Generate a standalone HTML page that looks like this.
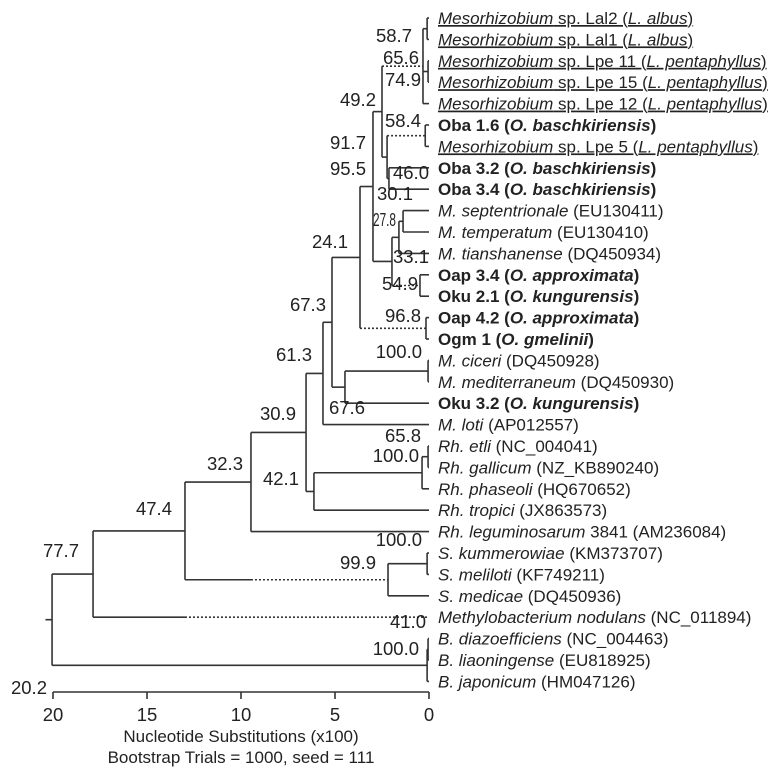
<!DOCTYPE html>
<html><head><meta charset="utf-8">
<style>
html,body{margin:0;padding:0;background:#fff;}
svg{display:block;font-family:"Liberation Sans",Arial,sans-serif;}
.br{stroke:#333;stroke-width:1.6;fill:none;}
.bs{font-size:18.5px;fill:#222;}
.leaf{font-size:17px;fill:#222;}
</style></head>
<body>
<svg id="tree" width="780" height="768" viewBox="0 0 780 768" xmlns="http://www.w3.org/2000/svg">
<g id="branches"></g>
<g id="labels"></g>
<g id="leaves"></g>
<g id="axis"></g>
</svg>
<script>
// ---- data ----
const leafNames = ["Lal2","Lal1","Lpe11","Lpe15","Lpe12","Oba16","Lpe5","Oba32","Oba34","sept","temp","tian","Oap34","Oku21","Oap42","Ogm1","cic","med","Oku32","loti","etli","gal","pha","tro","leg","kum","mel","medi","meth","dia","lia","jap"];
const leafLabels = [
 '<tspan text-decoration="underline"><tspan font-style="italic">Mesorhizobium</tspan> sp. Lal2 (<tspan font-style="italic">L. albus</tspan>)</tspan>',
 '<tspan text-decoration="underline"><tspan font-style="italic">Mesorhizobium</tspan> sp. Lal1 (<tspan font-style="italic">L. albus</tspan>)</tspan>',
 '<tspan text-decoration="underline"><tspan font-style="italic">Mesorhizobium</tspan> sp. Lpe 11 (<tspan font-style="italic">L. pentaphyllus</tspan>)</tspan>',
 '<tspan text-decoration="underline"><tspan font-style="italic">Mesorhizobium</tspan> sp. Lpe 15 (<tspan font-style="italic">L. pentaphyllus</tspan>)</tspan>',
 '<tspan text-decoration="underline"><tspan font-style="italic">Mesorhizobium</tspan> sp. Lpe 12 (<tspan font-style="italic">L. pentaphyllus</tspan>)</tspan>',
 '<tspan font-weight="bold">Oba 1.6 (<tspan font-style="italic">O. baschkiriensis</tspan>)</tspan>',
 '<tspan text-decoration="underline"><tspan font-style="italic">Mesorhizobium</tspan> sp. Lpe 5 (<tspan font-style="italic">L. pentaphyllus</tspan>)</tspan>',
 '<tspan font-weight="bold">Oba 3.2 (<tspan font-style="italic">O. baschkiriensis</tspan>)</tspan>',
 '<tspan font-weight="bold">Oba 3.4 (<tspan font-style="italic">O. baschkiriensis</tspan>)</tspan>',
 '<tspan font-style="italic">M. septentrionale</tspan> (EU130411)',
 '<tspan font-style="italic">M. temperatum</tspan>  (EU130410)',
 '<tspan font-style="italic">M. tianshanense</tspan> (DQ450934)',
 '<tspan font-weight="bold">Oap 3.4 (<tspan font-style="italic">O. approximata</tspan>)</tspan>',
 '<tspan font-weight="bold">Oku 2.1 (<tspan font-style="italic">O. kungurensis</tspan>)</tspan>',
 '<tspan font-weight="bold">Oap 4.2 (<tspan font-style="italic">O. approximata</tspan>)</tspan>',
 '<tspan font-weight="bold">Ogm 1 (<tspan font-style="italic">O. gmelinii</tspan>)</tspan>',
 '<tspan font-style="italic">M. ciceri</tspan> (DQ450928)',
 '<tspan font-style="italic">M. mediterraneum</tspan> (DQ450930)',
 '<tspan font-weight="bold">Oku 3.2 (<tspan font-style="italic">O. kungurensis</tspan>)</tspan>',
 '<tspan font-style="italic">M. loti</tspan> (AP012557)',
 '<tspan font-style="italic">Rh. etli</tspan> (NC_004041)',
 '<tspan font-style="italic">Rh. gallicum</tspan> (NZ_KB890240)',
 '<tspan font-style="italic">Rh. phaseoli</tspan> (HQ670652)',
 '<tspan font-style="italic">Rh. tropici</tspan> (JX863573)',
 '<tspan font-style="italic">Rh. leguminosarum</tspan> 3841 (AM236084)',
 '<tspan font-style="italic">S. kummerowiae</tspan> (KM373707)',
 '<tspan font-style="italic">S. meliloti</tspan> (KF749211)',
 '<tspan font-style="italic">S. medicae</tspan> (DQ450936)',
 '<tspan font-style="italic">Methylobacterium nodulans</tspan> (NC_011894)',
 '<tspan font-style="italic">B. diazoefficiens</tspan> (NC_004463)',
 '<tspan font-style="italic">B. liaoningense</tspan> (EU818925)',
 '<tspan font-style="italic">B. japonicum</tspan> (HM047126)'
];
// internal nodes: id, children, height (substitutions x100), bootstrap
const nodeIds      = ["Tl","Tp","T","Ob1","Ob3","O","L","Nst","N","Oo","M","K","Og","I","Jc","J","H","F","Ge2","Ge","G","E","D","Skm","S","C","Bd","Br","B","A"];
const nodeChildren = [["Lal2","Lal1"],["Lpe11","Lpe15"],["Tl","Tp","Lpe12"],["Oba16","Lpe5"],["Oba32","Oba34"],["Ob1","Ob3"],["T","O"],["sept","temp"],["Nst","tian"],["Oap34","Oku21"],["N","Oo"],["L","M"],["Oap42","Ogm1"],["K","Og"],["cic","med"],["Jc","Oku32"],["I","J"],["H","loti"],["etli","gal"],["Ge2","pha"],["Ge","tro"],["F","G"],["E","leg"],["kum","mel"],["Skm","medi"],["D","S"],["dia","lia"],["Bd","jap"],["C","meth"],["B","Br"]];
const nodeHeights  = [0.1,0.05,0.32,0.2,2.13,2.23,2.5,1.38,1.6,0.48,1.97,2.98,0.16,3.67,0.05,4.47,5.16,5.64,0.05,0.37,6.12,6.54,9.47,0.1,2.18,12.98,0.05,0.1,17.87,20.05];
const bootstraps   = ["58.7","74.9","65.6","58.4","46.0","91.7","49.2","33.1","27.8","54.9","30.1","95.5","96.8","24.1","100.0","67.6","67.3","61.3","65.8","100.0","42.1","30.9","32.3","100.0","99.9","47.4","41.0","100.0","77.7","20.2"];
const dashedBranches = ["T","Ob1","Oo","Og","S","meth"];
const rootHeight = 20.4;
const axisTicks = [20,15,10,5,0];
// ---- layout ----
const X0 = 429, PXU = 18.8;
const xs = d => X0 - d*PXU;
const leafY = i => 18 + i*21.4;
const labelPos = {Tl:[412,42],Tp:[421,86],T:[419,64],Ob1:[421,127],Ob3:[429,179],O:[366,149],L:[376,106],Nst:[429,263],N:[396,226],Oo:[418,290],M:[413,200],K:[366,175],Og:[421,322],I:[348,248],Jc:[422,358],J:[365,414],H:[326,311],F:[312,361],Ge2:[421,442],Ge:[419,462],G:[299,485],E:[296,420],D:[243,470],Skm:[422,546],S:[376,569],C:[172,515],Bd:[426,628],Br:[419,655],B:[79,557],A:[47,694]};

const NS="http://www.w3.org/2000/svg";
const gB=document.getElementById('branches'), gL=document.getElementById('labels'), gLf=document.getElementById('leaves'), gA=document.getElementById('axis');
const info={};
leafNames.forEach((n,i)=>{info[n]={h:0,y:leafY(i)};});
nodeIds.forEach((id,k)=>{
  const ch=nodeChildren[k].map(c=>info[c]);
  info[id]={h:nodeHeights[k],y:(ch[0].y+ch[ch.length-1].y)/2,children:nodeChildren[k]};
});
function line(x1,y1,x2,y2,dash,name){
  const l=document.createElementNS(NS,'line');
  l.setAttribute('x1',x1);l.setAttribute('y1',y1);l.setAttribute('x2',x2);l.setAttribute('y2',y2);
  l.setAttribute('class','br');
  if(dash) l.setAttribute('stroke-dasharray','2,2');
  
  
  gB.appendChild(l);
}
nodeIds.forEach((id,k)=>{
  const nd=info[id]; const px=xs(nd.h);
  const ys=nd.children.map(c=>info[c].y);
  line(px,Math.min(...ys),px,Math.max(...ys),false,'node-'+id.toLowerCase());
  nd.children.forEach(c=>{
    const cd=info[c]; const cx=xs(cd.h);
    if(dashedBranches.includes(c)){
      let solidEnd=px;
      if(c==='S') solidEnd=xs(9.47);
      if(c==='meth') solidEnd=xs(12.98);
      if(solidEnd>px) line(px,cd.y,solidEnd,cd.y,false,'branch-'+c.toLowerCase());
      line(solidEnd,cd.y,cx,cd.y,true,'branch-'+c.toLowerCase()+'-dashed');
    } else line(px,cd.y,cx,cd.y,false,'branch-'+c.toLowerCase());
  });
  const p=labelPos[id];
  const t=document.createElementNS(NS,'text');
  t.setAttribute('x',p[0]);t.setAttribute('y',p[1]);t.setAttribute('text-anchor','end');
  t.setAttribute('class','bs');
  if(id==='N'){t.setAttribute('font-size','14');t.setAttribute('textLength','23');t.setAttribute('lengthAdjust','spacingAndGlyphs');}
  t.textContent=bootstraps[k];
  
  
  gL.appendChild(t);
});
line(xs(rootHeight),info.A.y,xs(20.05),info.A.y,false,'root-branch');
leafNames.forEach((n,i)=>{
  const t=document.createElementNS(NS,'text');
  t.setAttribute('x',438);t.setAttribute('y',leafY(i)+6);t.setAttribute('class','leaf');
  t.innerHTML=leafLabels[i];
  
  
  gLf.appendChild(t);
});
const ay=692;
const al=document.createElementNS(NS,'line');
al.setAttribute('x1',xs(20));al.setAttribute('x2',xs(0));al.setAttribute('y1',ay);al.setAttribute('y2',ay);al.setAttribute('class','br');


gA.appendChild(al);
axisTicks.forEach(v=>{
  const tk=document.createElementNS(NS,'line');
  tk.setAttribute('x1',xs(v));tk.setAttribute('x2',xs(v));tk.setAttribute('y1',ay);tk.setAttribute('y2',ay+7);tk.setAttribute('class','br');
  
  
  gA.appendChild(tk);
  const tl=document.createElementNS(NS,'text');
  tl.setAttribute('x',xs(v));tl.setAttribute('y',721);tl.setAttribute('text-anchor','middle');tl.setAttribute('class','bs');
  tl.textContent=v;
  
  
  gA.appendChild(tl);
});
</script>
<svg style="position:absolute;left:0;top:0" width="780" height="768">
<text x="241" y="742" text-anchor="middle" font-family="Liberation Sans, sans-serif" font-size="17" fill="#222">Nucleotide Substitutions (x100)</text>
<text x="241" y="763" text-anchor="middle" font-family="Liberation Sans, sans-serif" font-size="17" fill="#222">Bootstrap Trials = 1000, seed = 111</text>
</svg>
</body></html>
